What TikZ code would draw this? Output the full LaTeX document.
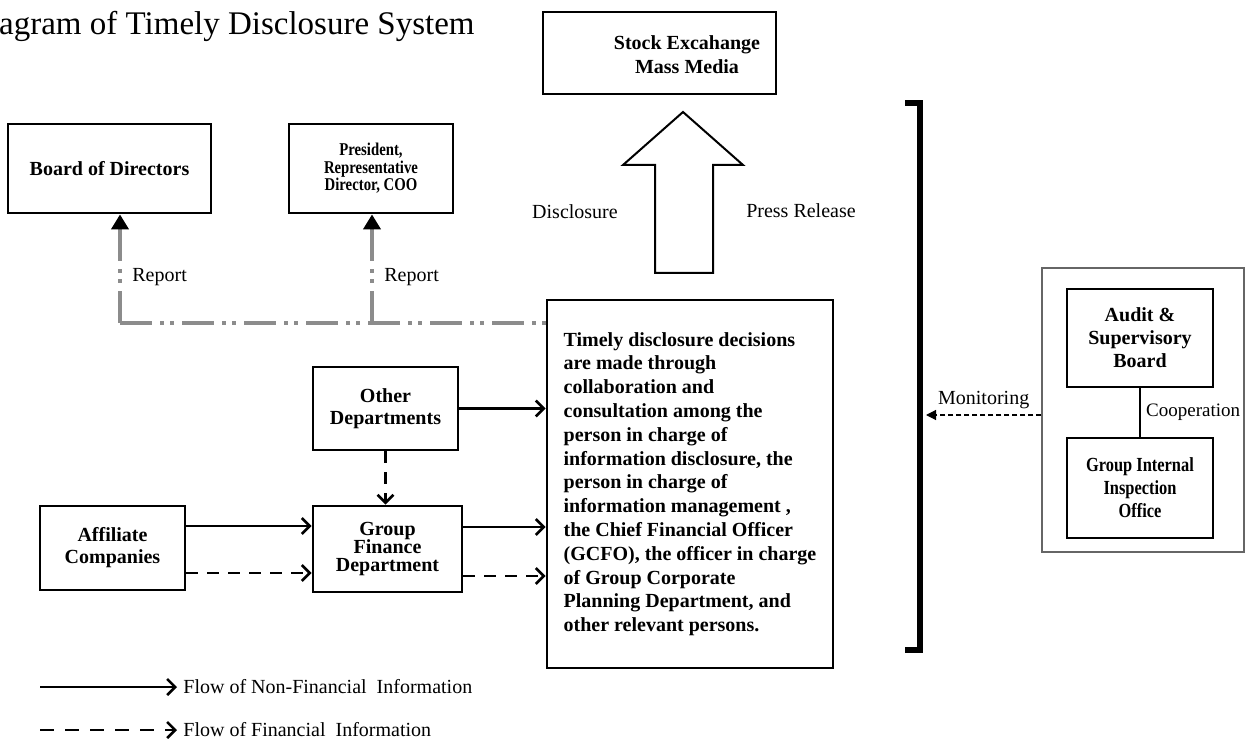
\documentclass[tikz,border=0pt]{standalone}
\usepackage{fontspec}
\setmainfont{Liberation Serif}
\newfontfamily\narrowserif{Liberation Serif}[FakeStretch=0.82]
\usetikzlibrary{arrows.meta}

\begin{document}
\begin{tikzpicture}[x=0.5pt,y=-0.5pt,
    box/.style={draw,line width=1.4pt,inner sep=0pt,align=center,font=\bfseries\fontsize{10}{11}\selectfont},
    narrowbox/.style={box,font=\narrowserif\bfseries\fontsize{10}{11.5}\selectfont},
    txt/.style={inner sep=3pt,font=\fontsize{10}{12}\selectfont},
    flow/.style={line width=1.3pt,-{Straight Barb[length=4pt,width=8pt,line width=1.3pt]}},
    finflow/.style={flow,dash pattern=on 6pt off 4.5pt},
    report/.style={draw=black!45,line width=2pt,dash pattern=on 16pt off 4pt on 2pt off 3pt on 2pt off 4pt},
    reporttip/.style={report,-{Triangle[length=7.5pt,width=8.5pt,color=black]}},
    monitor/.style={line width=0.6pt,dash pattern=on 2.5pt off 1.5pt,-{Triangle[length=5pt,width=5pt]}}]
  \useasboundingbox (0,0) rectangle (1253,743);

  % title
  \node[anchor=base east,inner sep=0pt,font=\fontsize{16.5}{20}\selectfont] (title) at (475,35) {agram of Timely Disclosure System};

  % top boxes
  \node[box,minimum width=116.5pt,minimum height=41pt] (media) at (659.5,53) {};
  \node[box,draw=none,font=\bfseries\fontsize{10}{12}\selectfont] (mediatxt) at (687,55) {Stock Excahange\\Mass Media};
  \node[box,minimum width=101.5pt,minimum height=44.5pt] (bod) at (109.5,168.5) {Board of Directors};
  \node[box,minimum width=82pt,minimum height=44.5pt,font=\narrowserif\bfseries\fontsize{9}{8.8}\selectfont] (pres) at (371,168.5) {President,\\Representative\\Director, COO};

  % disclosure arrow
  \draw[line width=1pt] (655,273) -- (655,165) -- (623,165) -- (683,112) -- (743,165) -- (713,165) -- (713,273) -- cycle;
  \node[txt] (disc) at (575,212) {Disclosure};
  \node[txt] (press) at (801,211) {Press Release};

  % decision box
  \node[box,align=left,minimum width=143pt,minimum height=184pt,font=\bfseries\fontsize{10}{11.9}\selectfont] (decide) at (690,484)
    {Timely disclosure decisions\\are made through\\collaboration and\\consultation among the\\person in charge of\\information disclosure, the\\person in charge of\\information management ,\\the Chief Financial Officer\\(GCFO), the officer in charge\\of Group Corporate\\Planning Department, and\\other relevant persons.};

  % departments
  \node[box,minimum width=72.5pt,minimum height=41.5pt] (other) at (385.5,408.5) {Other\\Departments};
  \node[box,minimum width=74.5pt,minimum height=43pt,font=\bfseries\fontsize{10}{9.2}\selectfont] (gfd) at (387.5,549) {Group\\Finance\\Department};
  \node[box,minimum width=72.5pt,minimum height=42pt] (aff) at (112.5,548) {Affiliate\\Companies};

  % report lines
  \coordinate (repbod) at (120,323);
  \coordinate (reppres) at (372,323);
  \draw[report] (repbod) -- (repbod -| decide.west);
  \draw[reporttip] (repbod) -- (repbod |- bod.south);
  \draw[reporttip] (reppres) -- (reppres |- pres.south);
  \node[txt,anchor=west] (repa) at (126,277) {Report};
  \node[txt,anchor=west] (repb) at (378,277) {Report};

  % flows
  \coordinate (affhi) at ([yshift=11pt]aff.east);
  \coordinate (afflo) at ([yshift=-12.5pt]aff.east);
  \coordinate (gfdhi) at ([yshift=11pt]gfd.east);
  \coordinate (gfdlo) at ([yshift=-13.5pt]gfd.east);
  \draw[flow] (affhi) -- (affhi -| gfd.west);
  \draw[finflow] (afflo) -- (afflo -| gfd.west);
  \draw[flow] (other.east) -- (other.east -| decide.west);
  \draw[finflow] (other.south) -- (other.south |- gfd.north);
  \draw[flow] (gfdhi) -- (gfdhi -| decide.west);
  \draw[finflow] (gfdlo) -- (gfdlo -| decide.west);

  % bracket
  \coordinate (brtop) at (920,103);
  \coordinate (brbot) at (920,650);
  \draw[line width=2.6pt] ([xshift=-7.5pt]brtop) -- (brtop) -- (brbot) -- ([xshift=-7.5pt]brbot);

  % audit side
  \node[draw=black!60,line width=0.6pt,minimum width=101pt,minimum height=142pt] (outer) at (1143,410) {};
  \node[box,minimum width=73pt,minimum height=49pt,font=\bfseries\fontsize{10}{11.5}\selectfont] (audit) at (1140,338) {Audit \&\\Supervisory\\Board};
  \node[narrowbox,minimum width=73pt,minimum height=50pt] (gio) at (1140,488) {Group Internal\\Inspection\\Office};
  \path[line width=1.2pt] (audit) edge node[txt,right,inner sep=2.5pt,font=\fontsize{9.5}{11}\selectfont] {Cooperation} (gio);
  \coordinate (monend) at (926,415);
  \path[monitor] ([yshift=-2.5pt]outer.west) edge node[txt,above] {Monitoring} (monend);

  % legend
  \coordinate (legsolid) at (40,687);
  \coordinate (legdash) at (40,730);
  \node[txt,anchor=west] (legnf) at (177,687) {Flow of Non-Financial\ \ Information};
  \node[txt,anchor=west] (legf) at (177,730) {Flow of Financial\ \ Information};
  \draw[flow] (legsolid) -- (legnf.west);
  \draw[finflow,dash pattern=on 7pt off 5.5pt] (legdash) -- (legf.west);
\end{tikzpicture}
\end{document}
